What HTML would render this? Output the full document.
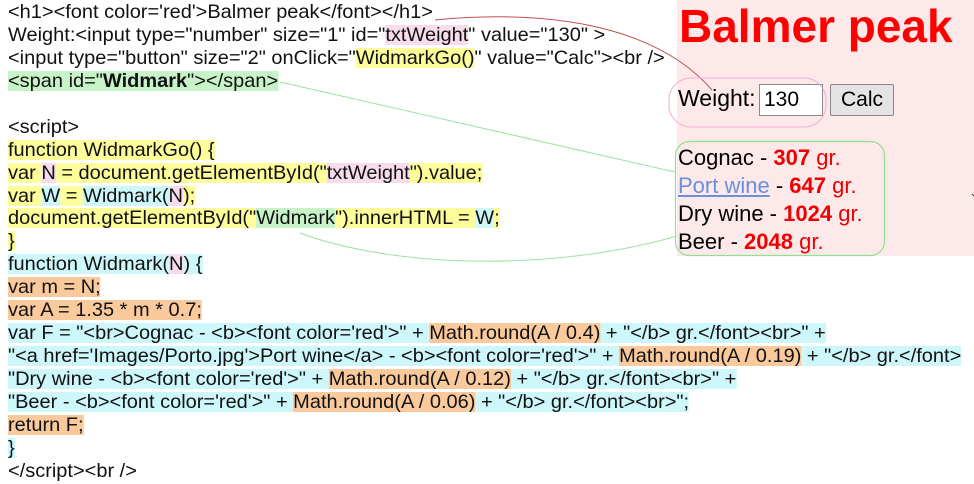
<!DOCTYPE html>
<html><head><meta charset="utf-8"><style>
body{margin:0;width:974px;height:484px;background:#fff;position:relative;overflow:hidden;font-family:"Liberation Sans",sans-serif}
#code{position:absolute;left:8px;top:2px;transform:scaleX(1.025);transform-origin:0 0;font-size:19.5px;color:#111}
#code div{height:20px;line-height:20px;margin-bottom:2.95px;white-space:pre}
#code span{display:inline-block;height:20px}
.y{background:#fdfd9c}.p{background:#f8dcec}.g{background:#c8f3c8}.c{background:#cdf7fb}.o{background:#fbca9c}
#right{position:absolute;left:677px;top:0;width:297px;height:256px;background:#fde9e9}
h1{position:absolute;left:679px;top:0;margin:0;font-size:46px;color:#f00;font-weight:bold;line-height:52px}
#wt{position:absolute;left:678px;top:85px;font-size:23px;color:#000}
.inp{position:absolute;left:759px;top:84px;width:64px;height:32px;border:1px solid #888;background:#fff;box-sizing:border-box;font-size:21px;padding-left:4px;line-height:30px}
.btn{position:absolute;left:830px;top:84px;width:64px;height:32px;border:1px solid #888;background:#e4e4e4;box-sizing:border-box;font-size:21px;text-align:center;line-height:30px;border-radius:2px}
#res{position:absolute;left:678px;top:144px;font-size:22px;line-height:28px;color:#000}
#res b,#res .r{color:#e00}
#res a{color:#6b8fdf;text-decoration:underline}
</style></head><body>
<div id="right"></div>
<div id="code"><div>&lt;h1&gt;&lt;font color='red'&gt;Balmer peak&lt;/font&gt;&lt;/h1&gt;</div><div>Weight:&lt;input type="number" size="1" id="<span class="p">txtWeight</span>" value="130" &gt;</div><div>&lt;input type="button" size="2" onClick="<span class="y">WidmarkGo()</span>" value="Calc"&gt;&lt;br /&gt;</div><div><span class="g">&lt;span id="<b>Widmark</b>"&gt;&lt;/span&gt;</span></div><div></div><div>&lt;script&gt;</div><div><span class="y">function WidmarkGo() {</span></div><div><span class="y">var </span><span class="p">N</span><span class="y"> = document.getElementById("</span><span class="p">txtWeight</span><span class="y">").value;</span></div><div><span class="y">var </span><span class="c">W</span><span class="y"> = </span><span class="c">Widmark(</span><span class="p">N</span><span class="y">);</span></div><div><span class="y">document.getElementById("</span><span class="g">Widmark</span><span class="y">").innerHTML = </span><span class="c">W</span><span class="y">;</span></div><div><span class="y">}</span></div><div><span class="c">function Widmark(</span><span class="p">N</span><span class="c">) {</span></div><div><span class="o">var m = N;</span></div><div><span class="o">var A = 1.35 * m * 0.7;</span></div><div><span class="c">var F = "&lt;br&gt;Cognac - &lt;b&gt;&lt;font color='red'&gt;" + </span><span class="o">Math.round(A / 0.4)</span><span class="c"> + "&lt;/b&gt; gr.&lt;/font&gt;&lt;br&gt;" +</span></div><div><span class="c">"&lt;a href='Images/Porto.jpg'&gt;Port wine&lt;/a&gt; - &lt;b&gt;&lt;font color='red'&gt;" + </span><span class="o">Math.round(A / 0.19)</span><span class="c"> + "&lt;/b&gt; gr.&lt;/font&gt;</span></div><div><span class="c">"Dry wine - &lt;b&gt;&lt;font color='red'&gt;" + </span><span class="o">Math.round(A / 0.12)</span><span class="c"> + "&lt;/b&gt; gr.&lt;/font&gt;&lt;br&gt;" +</span></div><div><span class="c">"Beer - &lt;b&gt;&lt;font color='red'&gt;" + </span><span class="o">Math.round(A / 0.06)</span><span class="c"> + "&lt;/b&gt; gr.&lt;/font&gt;&lt;br&gt;";</span></div><div><span class="o">return F;</span></div><div><span class="c">}</span></div><div>&lt;/script&gt;&lt;br /&gt;</div></div>
<h1>Balmer peak</h1>
<div id="wt">Weight:</div>
<div class="inp">130</div>
<div class="btn">Calc</div>
<div id="res">Cognac - <b>307</b> <span class="r">gr.</span><br><a>Port wine</a> - <b>647</b> <span class="r">gr.</span><br>Dry wine - <b>1024</b> <span class="r">gr.</span><br>Beer - <b>2048</b> <span class="r">gr.</span></div>
<svg width="974" height="484" style="position:absolute;left:0;top:0" fill="none">
<path d="M435 20 C 560 8, 660 30, 712 90" stroke="#c05050" stroke-width="1"/>
<rect x="669" y="78" width="157" height="49" rx="22" stroke="#f0b0d0" stroke-width="1"/>
<rect x="675.5" y="141.5" width="209" height="114" rx="14" stroke="#90e090" stroke-width="1.2"/>
<path d="M280 82 L675 172" stroke="#a0e0a0" stroke-width="1"/>
<path d="M300 233 C 400 270, 560 270, 677 236" stroke="#a0e0a0" stroke-width="1"/>
<path d="M972 194 L974 196" stroke="#333"/>
</svg>
</body></html>
